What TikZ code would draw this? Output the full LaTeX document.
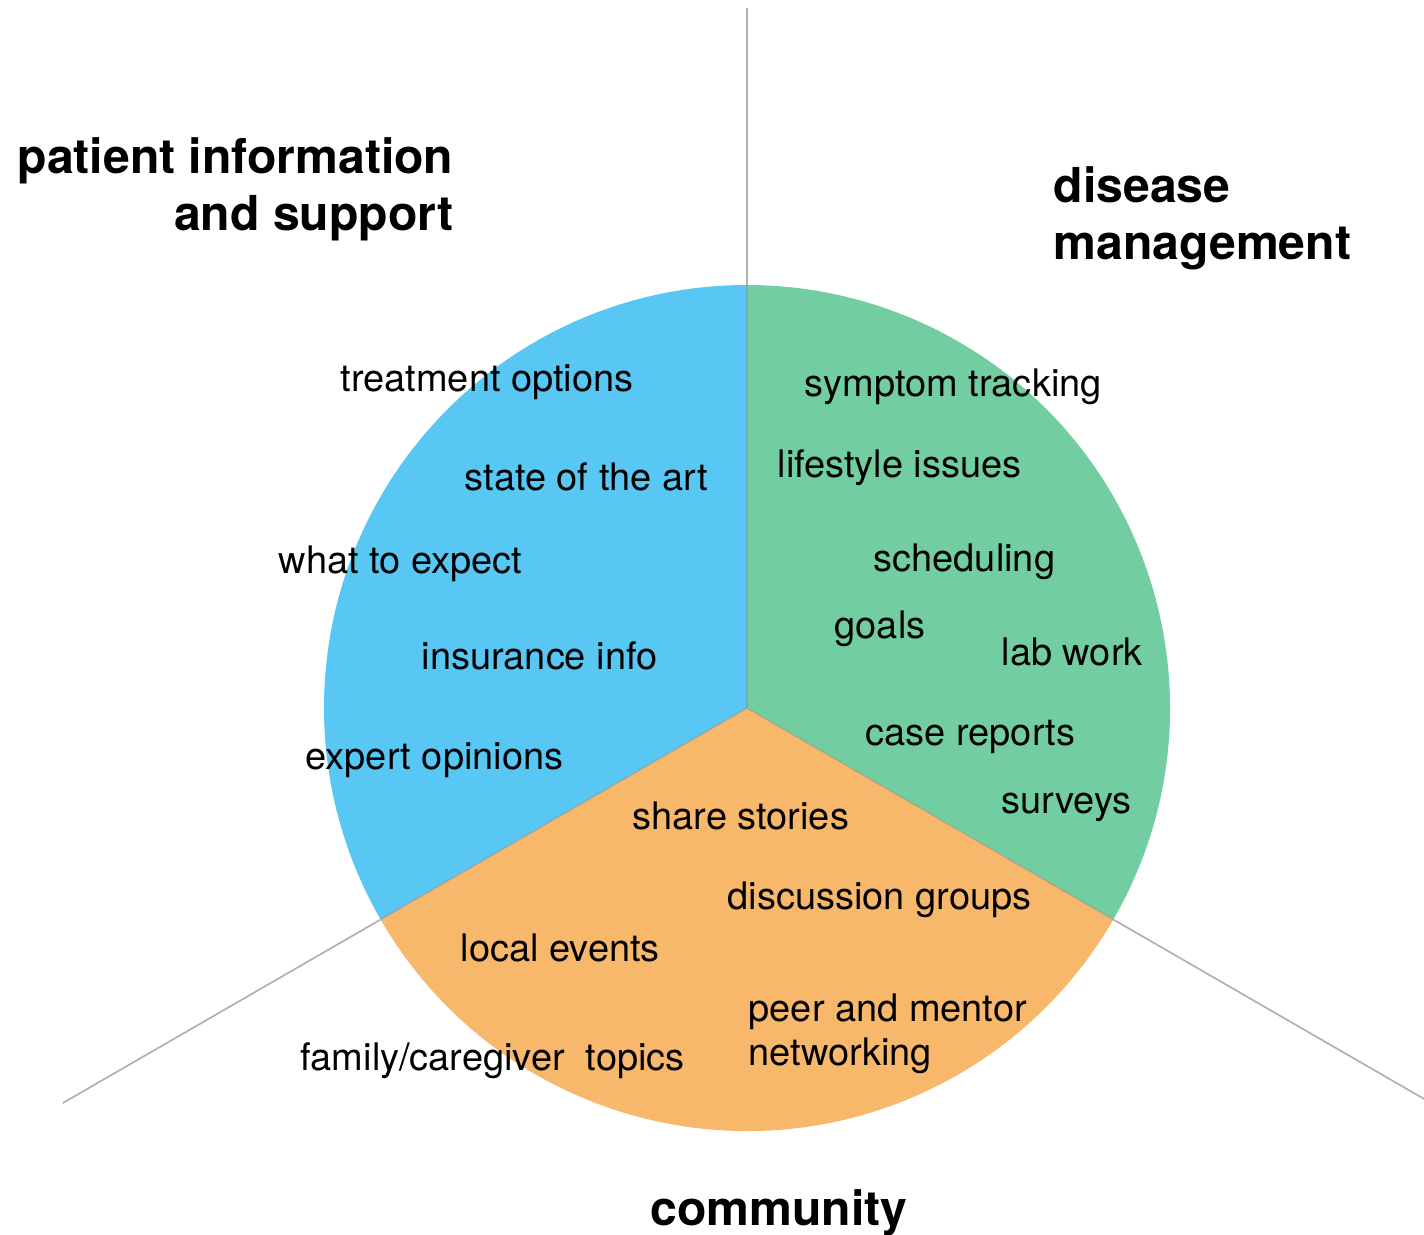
\documentclass[tikz,border=0pt]{standalone}
\usepackage{fontspec}
\setmainfont{TeX Gyre Heros}
\usepackage{tikz}
\definecolor{infoblue}{HTML}{58C7F3}
\definecolor{mgmtgreen}{HTML}{72CEA0}
\definecolor{commorange}{HTML}{F8B86C}
\newcommand{\pierad}{4.23}
\newcommand{\drawsector}[3]{
\fill[#1] (0,0) -- (#2:\pierad) arc[start angle=#2,end angle=#3,radius=\pierad] -- cycle;}
\tikzset{
  item/.style={anchor=base west,inner sep=0pt,align=left,
    font=\fontsize{10.8}{12.5}\selectfont},
  head/.style={inner sep=0pt,font=\fontsize{13.7}{16}\selectfont\bfseries},
  split/.style={draw=black!45,line width=0.4pt,opacity=0.5},
  spoke/.style={draw=black!30,line width=0.5pt}
}

\begin{document}
\begin{tikzpicture}
\useasboundingbox (-7.47,-5.26) rectangle (6.77,7.08);
\coordinate (c) at (0,0);
\drawsector{infoblue}{90}{210}
\drawsector{mgmtgreen}{-30}{90}
\drawsector{commorange}{210}{330}
\draw[split] (c) -- (90:\pierad);
\draw[split] (c) -- (210:\pierad);
\draw[split] (c) -- (330:\pierad);
\draw[spoke] (90:\pierad) -- (90:7.00);
\draw[spoke] (210:\pierad) -- (210:7.90);
\draw[spoke] (330:\pierad) -- (330:7.85);
% patient information and support
\node[item] (treat) at (-4.07,3.17) {treatment options};
\node[item] (sota) at (-2.83,2.18) {state of the art};
\node[item] (expect) at (-4.69,1.35) {what to expect};
\node[item] (insur) at (-3.26,0.39) {insurance info};
\node[item] (expert) at (-4.42,-0.61) {expert opinions};
% disease management
\node[item] (symptom) at (0.57,3.12) {symptom tracking};
\node[item] (lifestyle) at (0.30,2.31) {lifestyle issues};
\node[item] (sched) at (1.26,1.37) {scheduling};
\node[item] (goals) at (0.87,0.70) {goals};
\node[item] (lab) at (2.54,0.43) {lab work};
\node[item] (cases) at (1.18,-0.37) {case reports};
\node[item] (surveys) at (2.54,-1.05) {surveys};
% community
\node[item] (stories) at (-1.15,-1.21) {share stories};
\node[item] (discuss) at (-0.20,-2.01) {discussion groups};
\node[item] (local) at (-2.87,-2.53) {local events};
\node[item] (peer) at (0.01,-3.57) {peer and mentor\\networking};
\node[item] (family) at (-4.47,-3.62) {family/caregiver\ \ topics};
% headings
\node[head,anchor=base east,align=right] (patient) at (-2.93,4.78)
  {patient information\\and support};
\node[head,anchor=base west,align=left] (disease) at (3.06,4.49)
  {disease\\management};
\node[head,anchor=base west] (community) at (-0.97,-5.17) {community};
\end{tikzpicture}
\end{document}
